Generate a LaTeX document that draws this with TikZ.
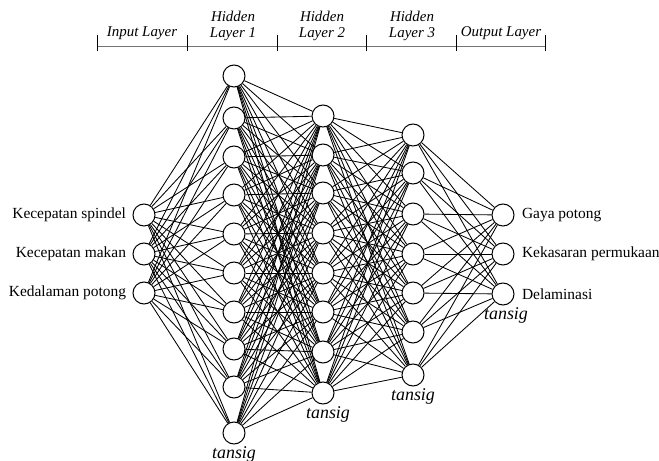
\documentclass[tikz,border=0pt]{standalone}
\usepackage{fontspec}
\setmainfont{Liberation Serif}
\usetikzlibrary{positioning}
\begin{document}
\begin{tikzpicture}[x=1bp,y=-1bp,
  neuron/.style={circle,draw,fill=white,minimum size=22bp,inner sep=0pt,line width=1bp},
  wire/.style={line width=0.85bp},
  lbl/.style={font=\fontsize{15.5}{17}\selectfont},
  hdr/.style={font=\fontsize{15}{16}\selectfont\itshape,align=center},
  act/.style={font=\fontsize{18}{18}\selectfont\itshape,inner sep=2bp}]
\useasboundingbox (0,0) rectangle (659,461);
% layer heads
\draw[line width=1bp,black!55] (97,47) -- (545,47);
\foreach \t in {97,187,277,366,456,545} \draw[line width=1bp] (\t,35) -- (\t,51);
\node[hdr] (hin) at (142,33) {Input Layer};
\node[hdr] (hh1) at (233,26) {Hidden\\Layer 1};
\node[hdr] (hh2) at (322,26) {Hidden\\Layer 2};
\node[hdr] (hh3) at (412,26) {Hidden\\Layer 3};
\node[hdr] (hout) at (501,33) {Output Layer};
% neurons
\foreach \y [count=\i] in {215,254,293} \node[neuron] (i\i) at (144,\y) {};
\foreach \y [count=\i] in {76,118,157,195,234,273,312,349,387,433} \node[neuron] (a\i) at (234,\y) {};
\foreach \y [count=\i] in {116,155,193,233,273,312,352,393} \node[neuron] (b\i) at (323,\y) {};
\foreach \y [count=\i] in {135,173,214,254,293,332,375} \node[neuron] (c\i) at (413,\y) {};
\foreach \y [count=\i] in {215,254,294} \node[neuron] (o\i) at (503,\y) {};
% weights
\foreach \i in {1,...,3} \foreach \j in {1,...,10} \draw[wire] (i\i) -- (a\j);
\foreach \i in {1,...,10} \foreach \j in {1,...,8} \draw[wire] (a\i) -- (b\j);
\foreach \i in {1,...,8} \foreach \j in {1,...,7} \draw[wire] (b\i) -- (c\j);
\foreach \i in {1,...,7} \foreach \j in {1,...,3} \draw[wire] (c\i) -- (o\j);
% inputs and outputs
\node[lbl,left=3bp of i1] (x1) {Kecepatan spindel};
\node[lbl,left=3bp of i2] (x2) {Kecepatan makan};
\node[lbl,left=3bp of i3] (x3) {Kedalaman potong};
\node[lbl,right=4bp of o1] (y1) {Gaya potong};
\node[lbl,right=4bp of o2] (y2) {Kekasaran permukaan};
\node[lbl,right=4bp of o3] (y3) {Delaminasi};
% transfer functions
\node[act,below=0bp of a10] (f1) {tansig};
\node[act,below=0bp of b8,xshift=5bp] (f2) {tansig};
\node[act,below=0bp of c7] (f3) {tansig};
\node[act,below=0bp of o3,xshift=3bp] (f4) {tansig};
\end{tikzpicture}
\end{document}
